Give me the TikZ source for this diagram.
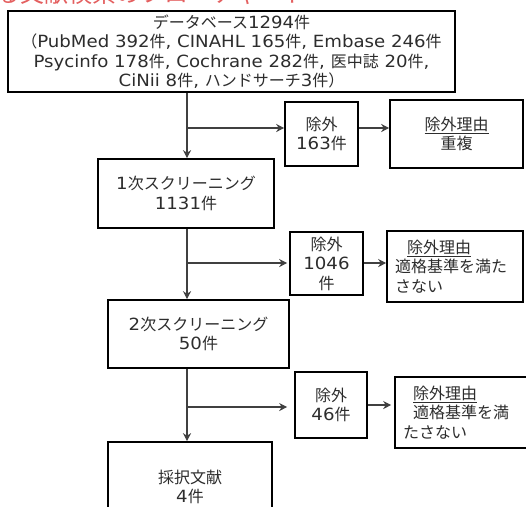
\documentclass[tikz,border=0pt]{standalone}
\usepackage{fontspec}
\setmainfont{DejaVu Sans}[Scale=1.05,FakeStretch=1.08]
\newfontfamily\jp{Noto Sans CJK JP}
\usetikzlibrary{arrows.meta}
\definecolor{titlered}{RGB}{228,95,95}
\definecolor{txt}{RGB}{45,45,45}
\tikzset{
  box/.style={draw=black, line width=1.6pt, rectangle, inner sep=0pt, text=txt,
    font=\fontsize{16}{19.5}\selectfont, align=center},
  lbox/.style={box, align=left, inner xsep=8pt},
  conn/.style={draw=black!75, line width=1.1pt},
  arr/.style={conn, -{Stealth[length=8pt,width=8pt,inset=2.5pt]}},
}
\newcommand{\J}[1]{{\jp #1}}
\begin{document}
\begin{tikzpicture}[x=1pt,y=-1pt]
\useasboundingbox[fill=white] (0,0) rectangle (526,506);
% clipped red title
\node[anchor=south west, inner sep=0pt, text=titlered, font=\jp\fontsize{24}{24}\selectfont] (title) at (-4,10) {\strut る文献検索のフローチャート};
% boxes
\node[box, minimum width=447, minimum height=81] (db) at (231.5,51.5)
  {\J{データベース}1294\J{件}\\
   \J{（}PubMed 392\J{件}, CINAHL 165\J{件}, Embase 246\J{件}\\
   Psycinfo 178\J{件}, Cochrane 282\J{件}, \J{医中誌} 20\J{件},\\
   CiNii 8\J{件}, \J{ハンドサーチ}3\J{件）}};
\node[box, minimum width=176, minimum height=69] (s1) at (186,193.5)
  {1\J{次スクリーニング}\\1131\J{件}};
\node[box, minimum width=181, minimum height=68] (s2) at (198.5,334)
  {2\J{次スクリーニング}\\50\J{件}};
\node[box, minimum width=164, minimum height=90] (fin) at (190,487)
  {\J{採択文献}\\4\J{件}};
% exclusion boxes
\node[box, minimum width=73, minimum height=64] (e1) at (321.5,134)
  {\J{除外}\\163\J{件}};
\node[box, minimum width=73, minimum height=63] (e2) at (326.5,263.5)
  {\J{除外}\\1046\\\J{件}};
\node[box, minimum width=72, minimum height=66] (e3) at (331,405)
  {\J{除外}\\46\J{件}};
% reason boxes
\node[box, minimum width=133, minimum height=68] (r1) at (456.5,134)
  {\J{\underline{除外理由}}\\\J{重複}};
\node[lbox, text width=120, minimum height=71] (r2) at (455,266.5)
  {\hspace*{12pt}\J{\underline{除外理由}}\\\J{適格基準を満た}\\\J{さない}};
\node[lbox, text width=140, minimum height=71] (r3) at (473,412.5)
  {\hspace*{10pt}\J{\underline{除外理由}}\\\hspace*{10pt}\J{適格基準を満}\\\J{たさない}};
% connectors
\coordinate (j1) at (187,128);
\coordinate (j2) at (187,263);
\coordinate (j3) at (187,407);
\draw[arr] (db.south -| j1) -- (s1.north -| j1);
\draw[arr] (j1) -- (e1.west |- j1);
\draw[arr] (e1.east |- j1) -- (r1.west |- j1);
\draw[arr] (s1.south -| j2) -- (s2.north -| j2);
\draw[arr, shorten >=2pt] (j2) -- (e2.west |- j2);
\draw[arr] (e2.east |- j2) -- (r2.west |- j2);
\draw[arr] (s2.south -| j3) -- (fin.north -| j3);
\draw[arr, shorten >=7pt] (j3) -- (e3.west |- j3);
\draw[arr, shorten >=3pt] (e3.east |- 0,405) -- (r3.west |- 0,405);
\end{tikzpicture}
\end{document}
